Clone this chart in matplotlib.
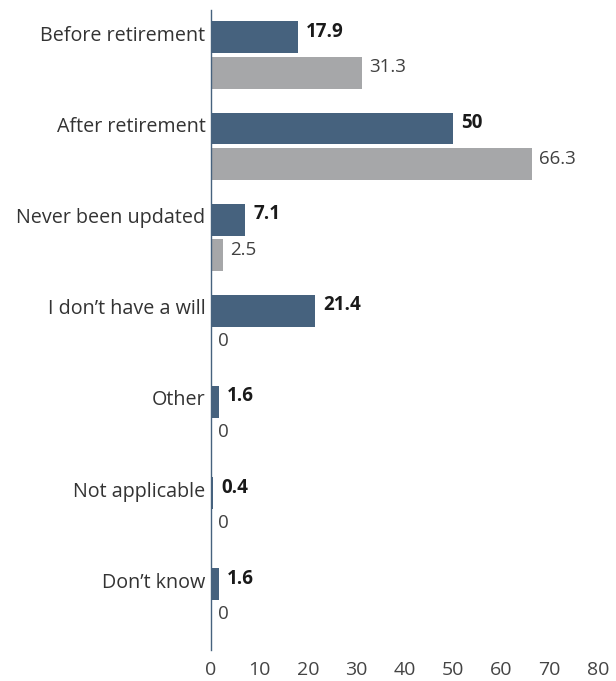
import matplotlib
matplotlib.use("Agg")
import matplotlib.pyplot as plt
import matplotlib.transforms as mtransforms
import numpy as np

categories = ["Before retirement", "After retirement", "Never been updated",
              "I don\u2019t have a will", "Other", "Not applicable", "Don\u2019t know"]
series_a = [17.9, 50, 7.1, 21.4, 1.6, 0.4, 1.6]
series_b = [31.3, 66.3, 2.5, 0, 0, 0, 0]
labels_a = ["17.9", "50", "7.1", "21.4", "1.6", "0.4", "1.6"]
labels_b = ["31.3", "66.3", "2.5", "0", "0", "0", "0"]
xticks = [0, 10, 20, 30, 40, 50, 60, 70, 80]

c_a = "#46627e"
c_b = "#a6a7a9"
plt.rcParams['font.family'] = ['Open Sans', 'DejaVu Sans']

fig = plt.figure(figsize=(6.16, 6.81), dpi=100)
ax = fig.add_axes([211/616, 1-650/681, (598-211)/616, 640/681])

y = np.arange(len(categories))
off = 0.39
h = 0.35
ax.barh(y, series_a, height=h, color=c_a)
ax.barh(y + off, series_b, height=h, color=c_b)

for yi, v, t in zip(y, series_a, labels_a):
    ax.annotate(t, (v, yi), xytext=(6, 4), textcoords="offset points",
                va="center", ha="left", fontsize=13.5, fontweight="bold", color="#1a1a1a")
for yi, v, t in zip(y, series_b, labels_b):
    ax.annotate(t, (v, yi + off), xytext=(5, 4), textcoords="offset points",
                va="center", ha="left", fontsize=13.5, color="#404040")

ax.set_xlim(0, 80)
ax.set_ylim(6 + off + 0.33, -0.3)
ax.set_yticks(y)
ax.set_yticklabels(categories, fontsize=14.2, color="#333333")
ax.set_xticks(xticks)
ax.set_xticklabels([str(t) for t in xticks], fontsize=14, color="#444444")
ax.tick_params(axis="both", length=0)
ax.tick_params(axis="y", pad=4)
ax.tick_params(axis="x", pad=8)
shift = mtransforms.ScaledTranslation(0, 3/72, fig.dpi_scale_trans)
for lab in ax.get_yticklabels():
    lab.set_transform(lab.get_transform() + shift)
for s in ["top", "right", "bottom"]:
    ax.spines[s].set_visible(False)
ax.spines["left"].set_color(c_a)
ax.spines["left"].set_linewidth(1)

fig.savefig("out.png", dpi=100)
